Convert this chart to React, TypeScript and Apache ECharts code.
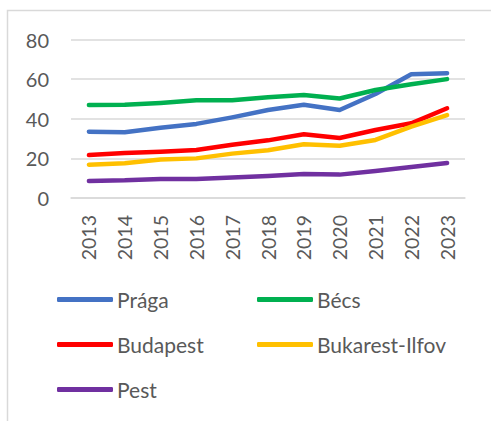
import React, { useEffect, useRef } from "react";
import * as echarts from "echarts";

const years = ["2013", "2014", "2015", "2016", "2017", "2018", "2019", "2020", "2021", "2022", "2023"];
const praga = [33.5, 33.2, 35.5, 37.4, 40.7, 44.4, 47.1, 44.4, 52.5, 62.5, 63.0];
const becs = [47.0, 47.1, 48.0, 49.3, 49.3, 50.8, 52.0, 50.2, 54.5, 57.4, 60.0];
const budapest = [21.7, 22.7, 23.4, 24.2, 26.9, 29.1, 32.2, 30.3, 34.3, 37.7, 45.3];
const bukarest = [16.8, 17.5, 19.4, 20.0, 22.4, 24.1, 27.1, 26.4, 29.3, 36.0, 41.8];
const pest = [8.6, 8.9, 9.6, 9.6, 10.3, 11.1, 12.1, 11.8, 13.6, 15.7, 17.7];

const seriesDefs = [
  { name: "Prága", data: praga, color: "#4472C4" },
  { name: "Bécs", data: becs, color: "#00B050" },
  { name: "Budapest", data: budapest, color: "#FF0000" },
  { name: "Bukarest-Ilfov", data: bukarest, color: "#FFC000" },
  { name: "Pest", data: pest, color: "#7030A0" },
];

const legendPos = [
  { left: 57, top: 302 },
  { left: 257, top: 302 },
  { left: 57, top: 347 },
  { left: 257, top: 347 },
  { left: 57, top: 392 },
];

export default function App() {
  const ref = useRef<HTMLDivElement>(null);
  useEffect(() => {
    if (!ref.current) return;
    const chart = echarts.init(ref.current, null, { renderer: "svg" });
    const font = "Lato, 'Liberation Sans', sans-serif";
    chart.setOption({
      animation: false,
      backgroundColor: "#ffffff",
      textStyle: { fontFamily: font },
      graphic: [
        {
          type: "rect",
          shape: { x: 7.5, y: 10.5, width: 600, height: 600 },
          style: { fill: "none", stroke: "#d9d9d9", lineWidth: 1.5 },
          silent: true,
        },
      ],
      grid: { left: 71, right: 26, top: 39.5, bottom: 223, containLabel: false },
      xAxis: {
        type: "category",
        data: years,
        boundaryGap: true,
        axisLine: { show: true, lineStyle: { color: "#d9d9d9", width: 1.5 } },
        axisTick: { show: false },
        axisLabel: { rotate: 90, margin: 17, color: "#595959", fontSize: 19.5, fontFamily: font },
      },
      yAxis: {
        type: "value",
        min: 0,
        max: 80,
        interval: 20,
        axisLine: { show: false },
        axisTick: { show: false },
        splitLine: { lineStyle: { color: "#d9d9d9", width: 1.5 } },
        axisLabel: { margin: 22, color: "#595959", fontSize: 20, fontFamily: font },
      },
      legend: seriesDefs.map((s, i) => ({
        data: [s.name],
        left: legendPos[i].left,
        top: legendPos[i].top - 13,
        icon: "roundRect",
        itemWidth: 56,
        itemHeight: 5,
        padding: 0,
        selectedMode: false,
        textStyle: { color: "#595959", fontSize: 21, fontFamily: font, padding: [0, 0, 0, -1] },
      })),
      series: seriesDefs.map((s) => ({
        name: s.name,
        type: "line",
        data: s.data,
        symbol: "none",
        color: s.color,
        lineStyle: { width: 4.5, color: s.color, cap: "round", join: "round" },
      })),
    });
    return () => chart.dispose();
  }, []);
  return (
    <div
      ref={ref}
      style={{ position: "fixed", left: 0, top: 0, width: 491, height: 421 }}
    />
  );
}
